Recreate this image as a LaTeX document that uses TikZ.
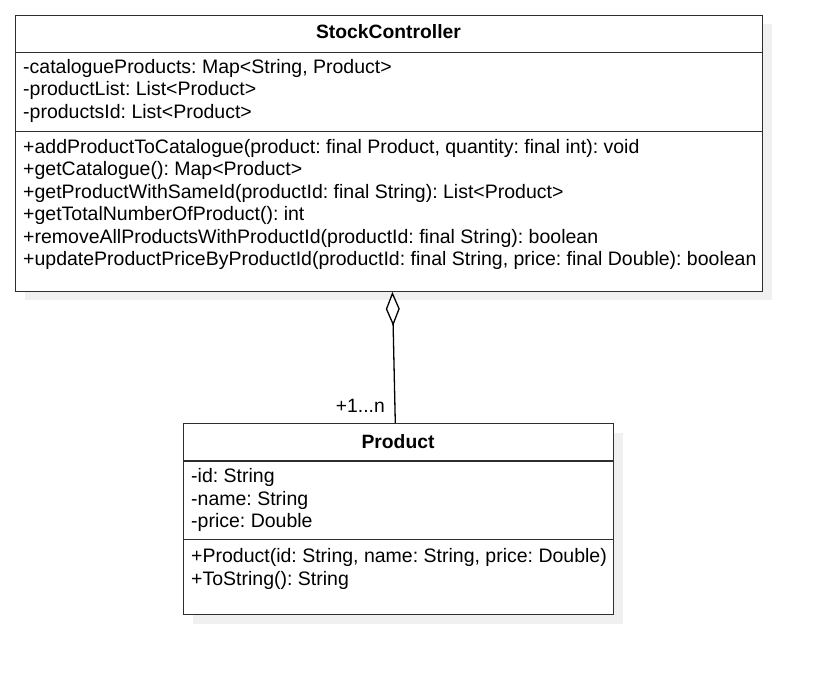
\documentclass[tikz,border=0pt]{standalone}
\usepackage{fontspec}
\setmainfont{Liberation Sans}
\usetikzlibrary{arrows.meta,shadows}
\frenchspacing
\begin{document}
\begin{tikzpicture}[x=1pt,y=-1pt,
  classbox/.style={draw=black!82, line width=1.4pt, fill=white, anchor=north west, inner sep=0pt,
    general shadow={fill=black!6, shadow xshift=9pt, shadow yshift=-9pt}},
  member/.style={anchor=base west, inner sep=0pt, font=\fontsize{19.5}{22}\selectfont},
  title/.style={anchor=base, inner sep=0pt, font=\fontsize{19.3}{22}\selectfont\bfseries},
  divider/.style={draw=black!82, line width=1.4pt},
  conn/.style={draw=black, line width=1.3pt},
  mult/.style={anchor=base east, inner sep=0pt, font=\fontsize{19.3}{22}\selectfont}]
\useasboundingbox[fill=white] (0,0) rectangle (820,675);
% StockController
\node[classbox, minimum width=747pt, minimum height=276pt] (sc) at (15,14.5) {};
\draw[divider] (sc.west |- 0,52.3) -- (sc.east |- 0,52.3);
\draw[divider] (sc.west |- 0,131.7) -- (sc.east |- 0,131.7);
\node[title] (sct) at (388.5,38.3) {StockController};
\node[member] (sca1) at (23,73) {-catalogueProducts: Map<String, Product>};
\node[member] (sca2) at (23,95.5) {-productList: List<Product>};
\node[member] (sca3) at (23,118) {-productsId: List<Product>};
\node[member] (scm1) at (23,153.3) {+addProductToCatalogue(product: final Product, quantity: final int): void};
\node[member] (scm2) at (23,175.8) {+getCatalogue(): Map<Product>};
\node[member] (scm3) at (23,198.3) {+getProductWithSameId(productId: final String): List<Product>};
\node[member] (scm4) at (23,220.8) {+getTotalNumberOfProduct(): int};
\node[member] (scm5) at (23,243.3) {+removeAllProductsWithProductId(productId: final String): boolean};
\node[member] (scm6) at (23,265.8) {+updateProductPriceByProductId(productId: final String, price: final Double): boolean};
% Product
\node[classbox, minimum width=430pt, minimum height=191pt] (p) at (183,423) {};
\draw[divider] (p.west |- 0,461) -- (p.east |- 0,461);
\draw[divider] (p.west |- 0,539.5) -- (p.east |- 0,539.5);
\node[title] (pt) at (398,448.3) {Product};
\node[member] (pa1) at (191,482.7) {-id: String};
\node[member] (pa2) at (191,505) {-name: String};
\node[member] (pa3) at (191,527.3) {-price: Double};
\node[member] (pm1) at (191,562.7) {+Product(id: String, name: String, price: Double)};
\node[member] (pm2) at (191,585) {+ToString(): String};
% aggregation
\coordinate (aggtop) at ([xshift=3.2pt]sc.south);
\coordinate (aggbot) at ([xshift=-3.4pt]p.north);
\draw[conn, -{Diamond[open, fill=white, length=34pt, width=14pt, line width=1.3pt]}] (aggbot) -- (aggtop);
\node[mult] (m) at (385,412.7) {+1...n};
\end{tikzpicture}
\end{document}
